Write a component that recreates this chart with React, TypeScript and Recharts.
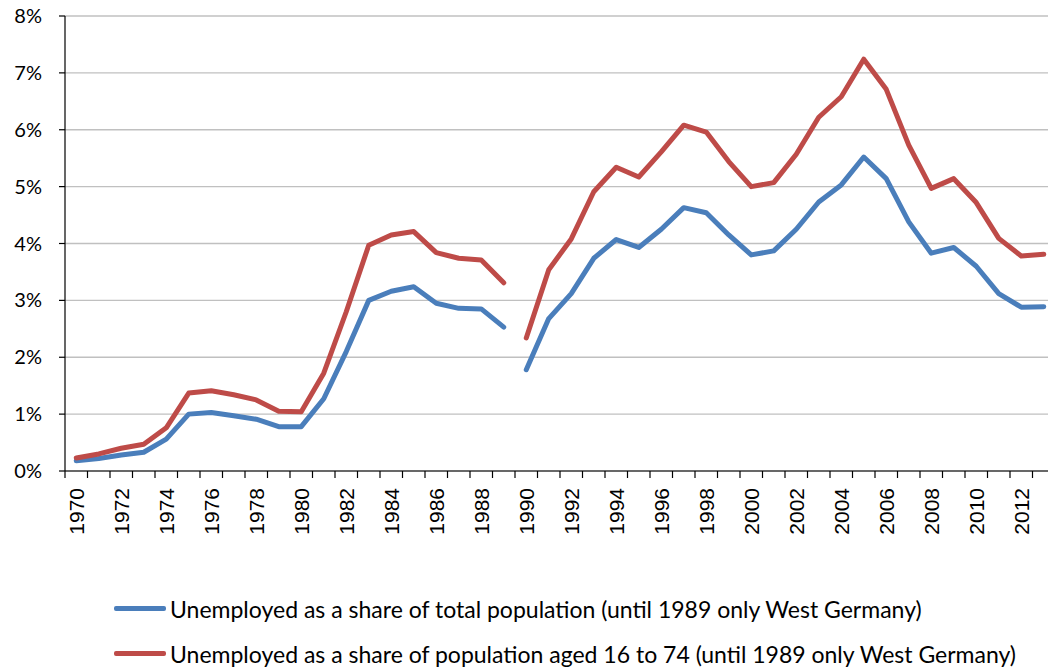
import { CartesianGrid, Legend, Line, LineChart, XAxis, YAxis } from 'recharts';

const years = [
  1970, 1971, 1972, 1973, 1974, 1975, 1976, 1977, 1978, 1979,
  1980, 1981, 1982, 1983, 1984, 1985, 1986, 1987, 1988, 1989,
  1990, 1991, 1992, 1993, 1994, 1995, 1996, 1997, 1998, 1999,
  2000, 2001, 2002, 2003, 2004, 2005, 2006, 2007, 2008, 2009,
  2010, 2011, 2012, 2013,
];

// unemployed as % of total population
const totalShare = [
  0.18, 0.22, 0.28, 0.33, 0.56, 1.0, 1.03, 0.97, 0.91, 0.78,
  0.78, 1.27, 2.1, 3.0, 3.16, 3.24, 2.95, 2.86, 2.85, 2.53,
  1.78, 2.68, 3.12, 3.74, 4.07, 3.93, 4.25, 4.63, 4.54, 4.15,
  3.8, 3.87, 4.25, 4.73, 5.03, 5.52, 5.14, 4.38, 3.83, 3.93,
  3.6, 3.12, 2.88, 2.89,
];

// unemployed as % of population aged 16-74
const ageShare = [
  0.23, 0.3, 0.4, 0.47, 0.76, 1.37, 1.41, 1.34, 1.25, 1.05,
  1.04, 1.72, 2.8, 3.97, 4.15, 4.21, 3.84, 3.74, 3.71, 3.31,
  2.34, 3.54, 4.08, 4.91, 5.34, 5.17, 5.61, 6.08, 5.96, 5.44,
  5.0, 5.07, 5.57, 6.22, 6.58, 7.24, 6.71, 5.73, 4.97, 5.14,
  4.72, 4.09, 3.78, 3.81,
];

const yTicks = [0, 1, 2, 3, 4, 5, 6, 7, 8];

const totalLabel = 'Unemployed as a share of total population (until 1989 only West Germany)';
const ageLabel = 'Unemployed as a share of population aged 16 to 74 (until 1989 only West Germany)';

const BLUE = '#4a7ebb';
const RED = '#be4b48';
const reunification = 1990;

const chartData = years.map((year, i) => ({
  year,
  totalWest: year < reunification ? totalShare[i] : null,
  totalAll: year >= reunification ? totalShare[i] : null,
  ageWest: year < reunification ? ageShare[i] : null,
  ageAll: year >= reunification ? ageShare[i] : null,
}));

function YearTick(props: any) {
  const { x, y, payload, index } = props;
  const half = payload?.offset || 11.25;
  return (
    <g>
      <line x1={x - half} x2={x - half} y1={y} y2={y + 7} stroke="#000" strokeWidth={1.2} />
      {index % 2 === 0 && (
        <text
          transform={`translate(${x},${y + 17}) rotate(-90)`}
          textAnchor="end"
          dy="0.36em"
          fontFamily="'Liberation Sans', Arial, sans-serif"
          fontSize={21}
          fill="#000"
        >
          {payload.value}
        </text>
      )}
    </g>
  );
}

function LegendBox() {
  const items = [
    { label: totalLabel, color: BLUE },
    { label: ageLabel, color: RED },
  ];
  return (
    <div style={{ fontFamily: 'Lato, sans-serif', fontSize: 23, color: '#000' }}>
      {items.map((it) => (
        <div key={it.label} style={{ display: 'flex', alignItems: 'center', height: 45 }}>
          <span
            style={{
              display: 'inline-block',
              width: 52,
              height: 5,
              background: it.color,
              borderRadius: 2,
              marginRight: 4,
            }}
          />
          <span style={{ whiteSpace: 'nowrap' }}>{it.label}</span>
        </div>
      ))}
    </div>
  );
}

export default function App() {
  return (
    <div
      style={{
        position: 'fixed',
        left: 0,
        top: 0,
        width: 1048,
        height: 670,
        overflow: 'hidden',
        background: '#fff',
      }}
    >
      <LineChart
        width={1060}
        height={670}
        data={chartData}
        margin={{ top: 16, right: 5, left: 0, bottom: 119 }}
      >
        <CartesianGrid vertical={false} stroke="#c0c0c0" strokeWidth={1.4} />
        <XAxis
          dataKey="year"
          scale="band"
          interval={0}
          height={80}
          tickSize={0}
          tickMargin={0}
          tickLine={false}
          axisLine={{ stroke: '#000', strokeWidth: 1.2 }}
          tick={<YearTick />}
        />
        <YAxis
          domain={[0, 8]}
          ticks={yTicks}
          width={65}
          tickFormatter={(v) => `${v}%`}
          tickSize={6}
          tickMargin={17}
          axisLine={{ stroke: '#000', strokeWidth: 1.2 }}
          tickLine={{ stroke: '#000', strokeWidth: 1.2 }}
          tick={{ fill: '#000', fontSize: 20, fontFamily: 'Lato, sans-serif' }}
        />
        <Legend
          layout="vertical"
          align="center"
          verticalAlign="middle"
          wrapperStyle={{ top: 586, left: 114, width: 'auto', height: 'auto' }}
          content={<LegendBox />}
        />
        <Line
          type="linear"
          dataKey="totalWest"
          stroke={BLUE}
          strokeWidth={5}
          strokeLinejoin="round"
          strokeLinecap="round"
          dot={false}
          activeDot={false}
          isAnimationActive={false}
          legendType="none"
        />
        <Line
          type="linear"
          dataKey="totalAll"
          stroke={BLUE}
          strokeWidth={5}
          strokeLinejoin="round"
          strokeLinecap="round"
          dot={false}
          activeDot={false}
          isAnimationActive={false}
          legendType="none"
        />
        <Line
          type="linear"
          dataKey="ageWest"
          stroke={RED}
          strokeWidth={5}
          strokeLinejoin="round"
          strokeLinecap="round"
          dot={false}
          activeDot={false}
          isAnimationActive={false}
          legendType="none"
        />
        <Line
          type="linear"
          dataKey="ageAll"
          stroke={RED}
          strokeWidth={5}
          strokeLinejoin="round"
          strokeLinecap="round"
          dot={false}
          activeDot={false}
          isAnimationActive={false}
          legendType="none"
        />
      </LineChart>
    </div>
  );
}
